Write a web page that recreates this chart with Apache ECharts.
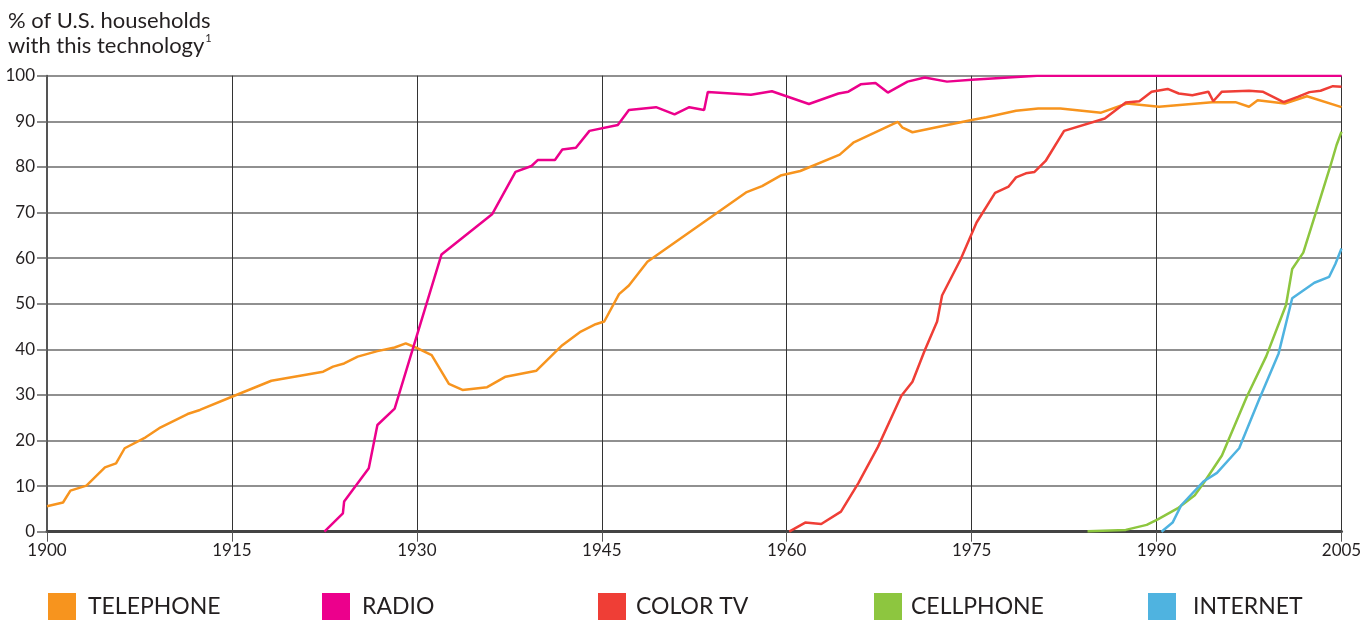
<!DOCTYPE html>
<html>
<head>
<meta charset="utf-8">
<title>Technology adoption in U.S. households</title>
<script src="https://cdn.jsdelivr.net/npm/echarts@6/dist/echarts.min.js"></script>
<style>
  html, body { margin: 0; padding: 0; background: #fff; }
  #chart { width: 1366px; height: 621px; }
</style>
</head>
<body>
<div id="chart"></div>
<script>
// [year, % of households]
const telephone = [
  [1900, 5.6], [1901.3, 6.4], [1901.9, 9.0], [1903.2, 10.1], [1904.7, 14.1], [1905.6, 15.0],
  [1906.3, 18.3], [1908.0, 20.7], [1909.1, 22.7], [1911.4, 25.8], [1912.4, 26.7], [1915, 29.6],
  [1918.2, 33.1], [1922.4, 35.1], [1923.2, 36.2], [1924.1, 36.9], [1925.2, 38.4], [1926.8, 39.6],
  [1928.2, 40.4], [1929.1, 41.3], [1929.9, 40.4], [1931.2, 38.7], [1932.6, 32.4], [1933.7, 31.1],
  [1935.7, 31.7], [1937.2, 34.0], [1939.7, 35.3], [1941.8, 40.9], [1943.3, 43.9], [1944.5, 45.5],
  [1945.2, 46.1], [1946.4, 52.1], [1947.2, 54.0], [1948.7, 59.2], [1956.7, 74.4], [1958.0, 75.8],
  [1959.5, 78.1], [1961.1, 79.1], [1964.3, 82.7], [1965.4, 85.3], [1969.0, 89.9], [1969.4, 88.6],
  [1970.2, 87.6], [1975.0, 90.3], [1976.2, 90.9], [1978.6, 92.3], [1980.4, 92.8], [1982.2, 92.8],
  [1985.5, 91.9], [1987.6, 93.9], [1990.2, 93.2], [1994.5, 94.2], [1996.4, 94.2], [1997.5, 93.2],
  [1998.2, 94.6], [2000.4, 93.9], [2002.2, 95.5], [2005, 93.1]
];
const radio = [
  [1922.5, 0], [1924.0, 4.0], [1924.1, 6.6], [1926.1, 13.9], [1926.8, 23.4], [1928.2, 27.0],
  [1932.0, 60.8], [1936.1, 69.6], [1938.0, 78.9], [1939.3, 80.2], [1939.8, 81.5], [1941.2, 81.5],
  [1941.8, 83.8], [1942.9, 84.2], [1944.0, 87.9], [1946.3, 89.2], [1947.2, 92.5], [1949.4, 93.1],
  [1950.9, 91.5], [1952.1, 93.1], [1953.3, 92.5], [1953.6, 96.4], [1957.1, 95.8], [1958.8, 96.6],
  [1961.8, 93.8], [1964.2, 96.1], [1965.0, 96.5], [1966.0, 98.1], [1967.2, 98.4], [1968.2, 96.3],
  [1969.8, 98.7], [1971.2, 99.6], [1973.0, 98.7], [1975.0, 99.1], [1980.3, 100], [2005, 100]
];
const colorTv = [
  [1960.2, 0], [1961.5, 2.0], [1962.8, 1.7], [1964.4, 4.4], [1965.8, 10.6], [1967.4, 18.6],
  [1969.3, 29.8], [1970.2, 32.9], [1971.2, 39.8], [1972.2, 46.1], [1972.6, 51.8], [1974.1, 59.7],
  [1975.4, 67.8], [1976.9, 74.3], [1978.0, 75.7], [1978.6, 77.7], [1979.4, 78.6], [1980.1, 78.9],
  [1981.0, 81.3], [1982.5, 87.9], [1985.8, 90.6], [1987.5, 94.1], [1988.6, 94.4], [1989.6, 96.5],
  [1990.9, 97.1], [1991.8, 96.1], [1992.9, 95.7], [1994.2, 96.5], [1994.6, 94.4], [1995.3, 96.5],
  [1997.5, 96.7], [1998.6, 96.5], [2000.3, 94.2], [2001.5, 95.4], [2002.4, 96.4], [2003.3, 96.7],
  [2004.3, 97.7], [2005, 97.6]
];
const cellphone = [
  [1984.4, 0.1], [1987.5, 0.4], [1989.2, 1.5], [1990.1, 2.7], [1991.7, 5.1], [1993.1, 8.0],
  [1993.9, 11.0], [1995.3, 16.7], [1997.3, 29.5], [1998.9, 38.5], [2000.5, 49.7], [2001.0, 57.6],
  [2001.9, 61.2], [2002.9, 69.8], [2004.1, 80.2], [2004.6, 84.8], [2005, 87.7]
];
const internet = [
  [1990.4, 0], [1991.3, 2.0], [1992.0, 5.8], [1993.8, 11.0], [1994.9, 12.9], [1996.7, 18.3],
  [1998.3, 28.9], [1999.9, 39.1], [2001.0, 51.2], [2002.8, 54.6], [2004.0, 55.9], [2004.5, 58.7],
  [2005, 62.1]
];

const names = ["TELEPHONE", "RADIO", "COLOR TV", "CELLPHONE", "INTERNET"];
const colors = ["#f7941e", "#ec008c", "#ef3e36", "#8dc63f", "#4fb3e0"];
const legendLeft = [48, 322, 598, 874, 1148];
const legendGap = [12, 12, 10, 9, 17];

const chart = echarts.init(document.getElementById("chart"));
const font = "Lato, 'Open Sans', sans-serif";

const seriesData = [telephone, radio, colorTv, cellphone, internet];

chart.setOption({
  animation: false,
  textStyle: { fontFamily: font },
  title: {
    text: "% of U.S. households\nwith this technology{sup|1}",
    left: 6,
    top: 3,
    padding: [5, 5, 5, 2],
    textStyle: {
      fontFamily: font,
      fontSize: 22,
      fontWeight: "normal",
      color: "#231f20",
      lineHeight: 25,
      rich: { sup: { fontSize: 11, verticalAlign: "top", lineHeight: 25, padding: [0, 0, 8, 1], color: "#231f20" } }
    }
  },
  legend: names.map((n, i) => ({
    data: [n],
    left: legendLeft[i],
    top: 593,
    padding: 0,
    icon: "rect",
    itemWidth: 28,
    itemHeight: 27,
    itemGap: 0,
    textStyle: { fontFamily: font, fontSize: 23, color: "#231f20", padding: [0, 0, 0, legendGap[i] - 5] }
  })),
  grid: { left: 47, right: 24.5, top: 75.7, bottom: 89.3, containLabel: false },
  xAxis: {
    type: "value",
    min: 1900,
    max: 2005,
    interval: 15,
    axisLine: { show: true, onZero: false, lineStyle: { color: "#444", width: 3 } },
    axisTick: { show: true, length: 10, lineStyle: { color: "#555", width: 1 } },
    axisLabel: { margin: 10, fontSize: 17, color: "#231f20", fontFamily: font, formatter: (v) => String(v) },
    splitLine: { show: true, lineStyle: { color: "#333", width: 1 } }
  },
  yAxis: {
    type: "value",
    min: 0,
    max: 100,
    interval: 10,
    axisLine: { show: true, lineStyle: { color: "#555", width: 2 } },
    axisTick: { show: true, length: 10, lineStyle: { color: "#666", width: 1.5 } },
    axisLabel: { margin: 12, fontSize: 17, color: "#231f20", fontFamily: font },
    splitLine: { show: true, lineStyle: { color: "#6b6b6b", width: 1.6 } }
  },
  series: names.map((n, i) => ({
    name: n,
    type: "line",
    data: seriesData[i],
    showSymbol: false,
    color: colors[i],
    lineStyle: { width: 2.5, color: colors[i] },
    z: 2 + i
  }))
});
</script>
</body>
</html>
